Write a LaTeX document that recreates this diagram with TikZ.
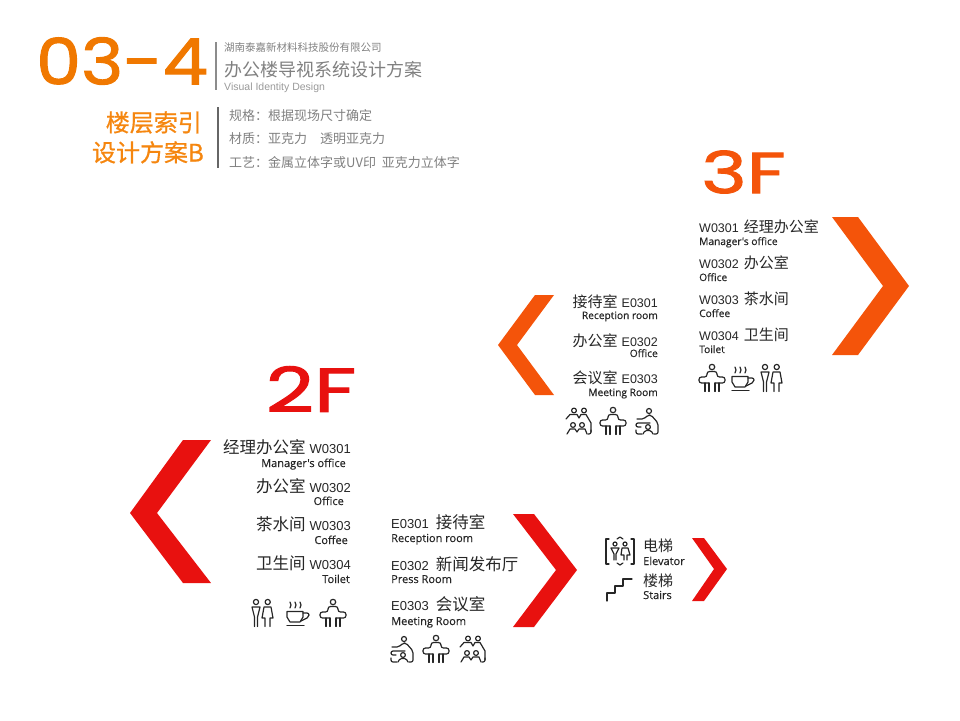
\documentclass[tikz,border=0pt]{standalone}
\usepackage{graphicx,xcolor}
\usepackage{fontspec}
\setmainfont{Liberation Sans}
\newfontfamily\zh{Noto Sans CJK SC}
\newfontfamily\zhbold[FakeBold=0.7]{Noto Sans CJK SC}
\newfontfamily\logofont[FakeBold=1.5]{Poppins}
\newfontfamily\subfont[FakeBold=0.5]{Open Sans}
\definecolor{floorthree}{HTML}{F4540A}
\definecolor{floortwo}{HTML}{E8110F}
\definecolor{titleorange}{HTML}{F07800}
\definecolor{headorange}{HTML}{F5860F}
\newcommand{\zhsmall}{\zh\fontsize{15}{15}\selectfont}
\newcommand{\zhlarge}{\zh\fontsize{16.5}{16.5}\selectfont}
\tikzset{
  room/.style={inner sep=0pt,text height=12pt,text depth=2pt,font=\fontsize{12.5}{13}\selectfont,text=black!85},
  sub/.style={inner sep=0pt,text height=9pt,text depth=1pt,font=\subfont\fontsize{10.2}{10}\selectfont,text=black!85},
  subl/.style={sub,font=\subfont\fontsize{11}{11}\selectfont},
  spec/.style={inner sep=0pt,text height=12pt,text depth=2pt,anchor=west,font=\zh\fontsize{13}{13}\selectfont,text=black!50},
  head/.style={inner sep=0pt,text height=19pt,text depth=0pt,anchor=east,text=headorange,font=\zhbold\fontsize{24}{24}\selectfont},
  icon/.style={line width=1.2pt,black!85,line cap=round,line join=round},
  pics/deskicon/.style={code={
    \draw[icon] (0,-12) circle (2.7);
    \draw[icon,rounded corners=2.5pt] (-3,4) -- (-13,4) -- (-13,-2) -- (-5,-2) -- (-5,-7.5) -- (5,-7.5) -- (5,-2) -- (13,-2) -- (13,4) -- (3,4);
    \draw[icon] (-7,4) -- (-7,12.5) (-3,4) -- (-3,12.5) (3,4) -- (3,12.5) (7,4) -- (7,12.5);
  }},
  pics/cupicon/.style={code={
    \draw[icon] (-7,-12) -- (-6,-9) -- (-7,-6) (-2,-12) -- (-1,-9) -- (-2,-6) (3,-12) -- (4,-9) -- (3,-6);
    \draw[icon] (-10,-2.5) -- (6,-2.5) -- (6,3) -- (3,8) -- (-7,8) -- (-10,3) -- cycle;
    \draw[icon,rounded corners=2pt] (6,-1) -- (12,-1) -- (12,3) -- (4,7);
    \draw[icon] (-10,11.7) -- (7,11.7);
  }},
  pics/wcicon/.style={code={
    \draw[icon] (-6,-12) circle (2.6) (5.7,-12) circle (2.6);
    \draw[icon] (-10,-7) -- (-2,-7) -- (-4.5,3) -- (-4.5,12.5) (-10,-7) -- (-7.5,3) -- (-7.5,12.5);
    \draw[icon] (2,-7) -- (9,-7) -- (11,4) -- (8,4) -- (8,12.5) (2,-7) -- (0,4) -- (3,4) -- (3,12.5);
  }},
  pics/talkicon/.style={code={
    \draw[icon] (2,-11) circle (2.5);
    \draw[icon,rounded corners=2pt] (-10,-3) -- (-3,-3) -- (1,-7) -- (4,-7) -- (11,1) -- (11,12) -- (7,12);
    \draw[icon,rounded corners=2pt] (3,1) -- (-11,1) -- (-11,5) -- (-6,5);
    \draw[icon,rounded corners=2pt] (-11,8) -- (-11,12) -- (-5,12);
    \draw[icon] (1,5) circle (2.4);
    \draw[icon,rounded corners=1.5pt] (-4,12) -- (-2,8.5) -- (4,8.5) -- (6,12);
  }},
  pics/meeticon/.style={code={
    \draw[icon] (-4,-11.5) circle (2.4) (6,-11.5) circle (2.4) (-5,3) circle (2.4) (4,3) circle (2.4);
    \draw[icon] (-12,-3) -- (-8,-7.5) -- (-1,-7.5) -- (1,-4) -- (3,-7.5) -- (8,-7.5) -- (13,1) -- (13,10);
    \draw[icon,rounded corners=2pt] (13,8) -- (13,12) -- (10,12);
    \draw[icon] (-11,12) -- (-8,7) -- (-3,7) -- (-1,10) -- (1,7) -- (7,7) -- (9,12);
  }},
  pics/lifticon/.style={code={
    \draw[icon] (-11,-12) -- (-14,-12) -- (-14,13) -- (-11,13) (11,-12) -- (14,-12) -- (14,13) -- (11,13);
    \draw[icon] (-3,-12) -- (0,-14) -- (3,-12) (-3,12) -- (0,14) -- (3,12);
    \draw[icon] (-5,-7) circle (2) (5,-7) circle (2);
    \draw[icon] (-9,-3) -- (-1,-3) -- (-4,3) -- (-4,9) (-9,-3) -- (-6,3) -- (-6,9);
    \draw[icon] (2,-3) -- (8,-3) -- (10,4) -- (7,4) -- (7,9) (2,-3) -- (1,4) -- (4,4) -- (4,9);
  }},
}
\begin{document}
\begin{tikzpicture}[x=1pt,y=-1pt]
\useasboundingbox (0,0) rectangle (960,720);
% draw header
\node[inner sep=0pt,text=titleorange,font=\logofont\fontsize{64}{64}\selectfont] (title) at (122,61) {\scalebox{1.12}[1]{03-4}};
\draw[black!45,line width=1.2pt] (216,42) -- (216,90);
\draw[black!60,line width=1.4pt] (218,107) -- (218,168);
\node[spec,text height=8pt,text depth=0pt,font=\zh\fontsize{10.5}{10.5}\selectfont] (company) at (224,47) {湖南泰嘉新材料科技股份有限公司};
\node[spec,text height=14pt,text depth=0pt,font=\zh\fontsize{18}{18}\selectfont] (project) at (224,69) {办公楼导视系统设计方案};
\node[spec,text height=8pt,text depth=0pt,text=black!40,font=\fontsize{10.5}{10.5}\selectfont] (vid) at (224,86) {Visual Identity Design};
\node[head] (head1) at (202,122) {楼层索引};
\node[head] (head2) at (204,152) {设计方案B};
\node[spec] (spec1) at (229,115) {规格：根据现场尺寸确定};
\node[spec] (spec2) at (229,138) {材质：亚克力\quad 透明亚克力};
\node[spec] (spec3) at (229,162) {工艺：金属立体字或UV印\ \ 亚克力立体字};
% draw floor marks
\node[inner sep=0pt,text=floorthree,font=\logofont\fontsize{58}{58}\selectfont] (three) at (743.5,172) {\scalebox{1.33}[1]{3F}};
\node[inner sep=0pt,text=floortwo,font=\logofont\fontsize{62}{62}\selectfont] (two) at (311,389) {\scalebox{1.35}[1]{2F}};
% draw chevrons
\fill[floorthree] (832,217) -- (858,217) -- (909,286) -- (858,355) -- (832,355) -- (883,286) -- cycle;
\fill[floorthree] (554,295) -- (535,295) -- (498,345) -- (535,395) -- (554,395) -- (517,345) -- cycle;
\fill[floortwo] (211,440) -- (183,440) -- (130,513) -- (183,583) -- (211,583) -- (157,513) -- cycle;
\fill[floortwo] (513,514) -- (534,514) -- (577,570) -- (534,627) -- (513,627) -- (556,570) -- cycle;
\fill[floortwo] (692,538) -- (704,538) -- (727,569) -- (704,601) -- (692,601) -- (714,569) -- cycle;
% 3F west rooms
\foreach \n/\y/\c/\s/\d in {1/227/经理办公室/Manager's office/241,2/263/办公室/Office/277,3/299/茶水间/Coffee/313,4/335/卫生间/Toilet/349}{
  \node[room,anchor=west] (tw\n) at (699,\y) {W030\n\hspace{5pt}{\zhsmall\c}};
  \node[sub,anchor=west] (tws\n) at (699,\d) {\s};
}
% 3F east rooms
\foreach \n/\y/\c/\s/\d in {1/302/接待室/Reception room/315,2/341/办公室/Office/353,3/378/会议室/Meeting Room/392}{
  \node[room,anchor=east] (te\n) at (658,\y) {{\zhsmall\c}\hspace{4pt}E030\n};
  \node[sub,anchor=east] (tes\n) at (658,\d) {\s};
}
% 2F west rooms
\foreach \n/\y/\c/\s/\d/\e in {1/448/经理办公室/Manager's office/463/346,2/487/办公室/Office/501/344,3/525/茶水间/Coffee/540/348,4/564/卫生间/Toilet/579/350}{
  \node[room,anchor=east,font=\fontsize{13}{13}\selectfont] (sw\n) at (351,\y) {{\zhlarge\c}\hspace{4pt}W030\n};
  \node[subl,anchor=east] (sws\n) at (\e,\d) {\s};
}
% 2F east rooms
\foreach \n/\y/\c/\s/\d in {1/523/接待室/Reception room/538,2/565/新闻发布厅/Press Room/579,3/605/会议室/Meeting Room/621}{
  \node[room,anchor=west,font=\fontsize{13}{13}\selectfont] (se\n) at (391,\y) {E030\n\hspace{7pt}{\zhlarge\c}};
  \node[subl,anchor=west] (ses\n) at (391,\d) {\s};
}
% lift and stairs
\node[room,anchor=west,font=\zhsmall] (lift) at (643,546) {电梯};
\node[subl,anchor=west] (lifts) at (643,561) {Elevator};
\node[room,anchor=west,font=\zhsmall] (stair) at (643,581) {楼梯};
\node[subl,anchor=west] (stairs) at (643,595) {Stairs};
% draw icons
\pic at (712,379) {deskicon};
\pic at (742,379) {cupicon};
\pic at (771,379) {wcicon};
\pic at (578,422) {meeticon};
\pic at (613,422) {deskicon};
\pic at (647,422) {talkicon};
\pic at (262,614) {wcicon};
\pic at (297,614) {cupicon};
\pic at (333,614) {deskicon};
\pic at (402,650) {talkicon};
\pic at (436,650) {deskicon};
\pic at (472,650) {meeticon};
\pic at (620,551) {lifticon};
\draw[icon] (607,601) -- (607,593) -- (615,593) -- (615,586) -- (623,586) -- (623,579) -- (632,579);
\end{tikzpicture}
\end{document}
